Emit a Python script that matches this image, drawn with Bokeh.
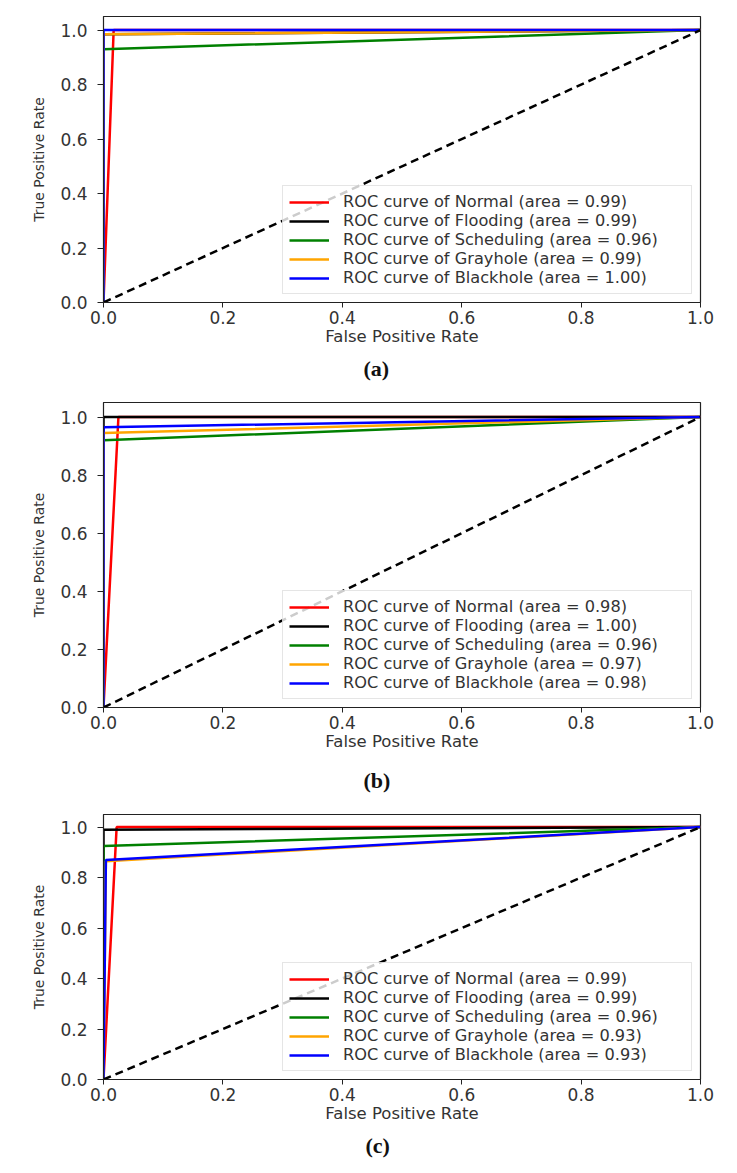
from bokeh.plotting import figure
from bokeh.models import Range1d, Legend, LegendItem, Title, FixedTicker, PrintfTickFormatter
from bokeh.layouts import column
from bokeh.embed import file_html
from bokeh.resources import INLINE

classes = ["Normal", "Flooding", "Scheduling", "Grayhole", "Blackhole"]
colors = ["red", "black", "green", "orange", "blue"]
ticks = [0.0, 0.2, 0.4, 0.6, 0.8, 1.0]

# panel (a)
a_fpr = [[0, 0.017, 1], [0, 0.0, 1], [0, 0.0, 1], [0, 0.0, 1], [0, 0.0, 1]]
a_tpr = [[0, 1.0, 1], [0, 0.985, 1], [0, 0.93, 1], [0, 0.985, 1], [0, 1.0, 1]]
a_auc = ["0.99", "0.99", "0.96", "0.99", "1.00"]

# panel (b)
b_fpr = [[0, 0.025, 1], [0, 0.0, 1], [0, 0.0, 1], [0, 0.0, 1], [0, 0.0, 1]]
b_tpr = [[0, 1.0, 1], [0, 1.0, 1], [0, 0.92, 1], [0, 0.945, 1], [0, 0.965, 1]]
b_auc = ["0.98", "1.00", "0.96", "0.97", "0.98"]

# panel (c)
c_fpr = [[0, 0.022, 1], [0, 0.0, 1], [0, 0.0, 1], [0, 0.004, 1], [0, 0.004, 1]]
c_tpr = [[0, 1.0, 1], [0, 0.99, 1], [0, 0.925, 1], [0, 0.865, 1], [0, 0.87, 1]]
c_auc = ["0.99", "0.99", "0.96", "0.93", "0.93"]

diag = [0, 1]

FONT = "DejaVu Sans"


def panel(fpr, tpr, auc, caption, height, bl, br, bt, bb, cap_offset, cap_standoff):
    p = figure(width=721, height=height, output_backend="svg", toolbar_location=None,
               x_range=Range1d(0, 1.0), y_range=Range1d(0, 1.05),
               min_border_left=bl, min_border_right=br, min_border_top=bt, min_border_bottom=bb)
    p.grid.visible = False
    p.outline_line_color = "#222222"
    p.outline_line_width = 1.2
    p.background_fill_color = "white"
    p.border_fill_color = "white"
    for ax in (p.xaxis[0], p.yaxis[0]):
        ax.ticker = FixedTicker(ticks=ticks)
        ax.formatter = PrintfTickFormatter(format="%.1f")
        ax.minor_tick_line_color = None
        ax.major_tick_in = 0
        ax.axis_line_color = "#222222"
        ax.major_tick_line_color = "#222222"
        ax.major_label_text_font = FONT
        ax.major_label_text_font_size = "17px"
        ax.major_label_text_color = "#333333"
        ax.axis_label_text_font = FONT
        ax.axis_label_text_font_style = "normal"
        ax.axis_label_text_color = "#333333"
    p.xaxis.axis_label = "False Positive Rate"
    p.yaxis.axis_label = "True Positive Rate"
    p.xaxis.axis_label_text_font_size = "16.5px"
    p.yaxis.axis_label_text_font_size = "14px"
    p.xaxis.major_tick_out = 5
    p.xaxis.major_label_standoff = 3
    p.xaxis.axis_label_standoff = 0
    p.yaxis.major_tick_out = 6
    p.yaxis.major_label_standoff = 10
    p.yaxis.axis_label_standoff = 10

    items = []
    for name, col, xs, ys, a in zip(classes, colors, fpr, tpr, auc):
        r = p.line(xs, ys, line_color=col, line_width=2.5)
        items.append(LegendItem(label="ROC curve of %s (area = %s)" % (name, a), renderers=[r]))
    p.line(diag, diag, line_color="black", line_width=2.5, line_dash="8 5")

    leg = Legend(items=items, location="bottom_right", margin=8,
                 label_text_font=FONT, label_text_font_size="16.2px", label_text_color="#333333",
                 glyph_width=40, glyph_height=16, label_height=16, label_width=342,
                 label_standoff=14, spacing=0, padding=6,
                 border_line_color="#cccccc", border_line_width=1,
                 background_fill_color="white", background_fill_alpha=0.8)
    p.add_layout(leg, "center")

    p.add_layout(Title(text=caption, align="left", offset=cap_offset, standoff=cap_standoff,
                       text_font="Liberation Serif", text_font_style="bold",
                       text_font_size="22px", text_color="#111111"), "below")
    return p


pa = panel(a_fpr, a_tpr, a_auc, "(a)", 392, 103, 21, 16, 90, 260, 11)
pb = panel(b_fpr, b_tpr, b_auc, "(b)", 413, 103, 19, 10, 95, 260, 25)
pc = panel(c_fpr, c_tpr, c_auc, "(c)", 360, 101, 18, 9, 86, 262, 11)

layout = column(pa, pb, pc, spacing=0)
open("out.html", "w").write(file_html(layout, INLINE))
